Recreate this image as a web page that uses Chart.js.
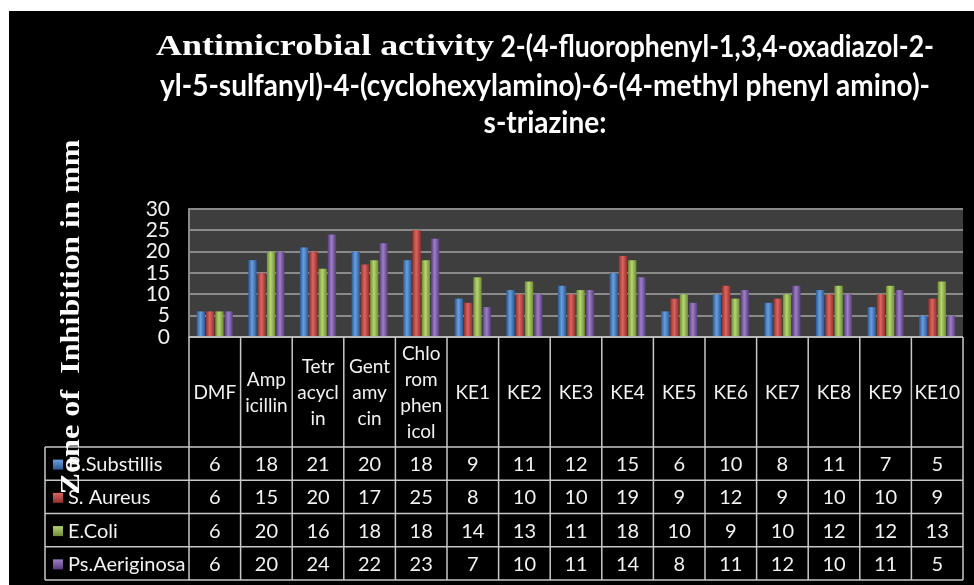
<!DOCTYPE html>
<html><head><meta charset="utf-8">
<script src="https://cdn.jsdelivr.net/npm/chart.js@4/dist/chart.umd.min.js"></script>
<style>html,body{margin:0;padding:0;background:#fff;}#wrap{width:974px;height:585px;position:relative}</style>
</head><body><div id="wrap"><canvas id="c" width="974" height="585"></canvas></div>
<script>
// ---- data ----
const categories = [['DMF'],['Amp','icillin'],['Tetr','acycl','in'],['Gent','amy','cin'],['Chlo','rom','phen','icol'],['KE1'],['KE2'],['KE3'],['KE4'],['KE5'],['KE6'],['KE7'],['KE8'],['KE9'],['KE10']];
const seriesNames = ['B.Substillis','S. Aureus','E.Coli','Ps.Aeriginosa'];
const bSubtilis    = [6,18,21,20,18,9,11,12,15,6,10,8,11,7,5];
const sAureus      = [6,15,20,17,25,8,10,10,19,9,12,9,10,10,9];
const eColi        = [6,20,16,18,18,14,13,11,18,10,9,10,12,12,13];
const psAeruginosa = [6,20,24,22,23,7,10,11,14,8,11,12,10,11,5];
const yTicks = [0,5,10,15,20,25,30];
const titleSerif = 'Antimicrobial activity';
const titleLines = [' 2-(4-fluorophenyl-1,3,4-oxadiazol-2-','yl-5-sulfanyl)-4-(cyclohexylamino)-6-(4-methyl phenyl amino)-','s-triazine:'];
const yTitle = 'Zone of  Inhibition in mm';

// ---- styles ----
const base = ['#4a7ebb','#be4b48','#98b954','#7d60a0'];
const dark = ['#2a5a94','#93302d','#6d8a33','#573b7c'];
const lite = ['#6a9ee0','#dc6561','#b6d670','#9c80c4'];
const SANS = 'Lato, "Noto Sans", sans-serif';
const SERIF = '"Liberation Serif", "DejaVu Serif", serif';

function grad(ctx, x0, x1, i){
  const g = ctx.createLinearGradient(x0,0,x1,0);
  g.addColorStop(0,dark[i]); g.addColorStop(0.45,lite[i]); g.addColorStop(1,dark[i]);
  return g;
}

const decor = {
  id:'decor',
  beforeDraw(chart){
    const ctx = chart.ctx, a = chart.chartArea;
    ctx.save();
    ctx.fillStyle='#fff'; ctx.fillRect(0,0,chart.width,chart.height);
    ctx.fillStyle='#000'; ctx.fillRect(9,11,chart.width-9,chart.height-11);
    ctx.fillStyle='#3e3e3e'; ctx.fillRect(a.left,a.top,a.right-a.left,a.bottom-a.top);
    ctx.restore();
  },
  beforeDatasetsDraw(chart){
    const ctx = chart.ctx;
    chart.data.datasets.forEach((ds,i)=>{
      chart.getDatasetMeta(i).data.forEach(el=>{
        el.options.backgroundColor = grad(ctx, el.x-el.width/2, el.x+el.width/2, i);
      });
    });
  },
  afterDraw(chart){
    const ctx = chart.ctx, a = chart.chartArea, xs = chart.scales.x;
    const n = categories.length, w = (a.right-a.left)/n;
    const top = a.bottom, hb = 447, bottom = 580, lx = 45;
    const rh = (bottom-hb)/seriesNames.length;
    ctx.save();
    // title
    ctx.fillStyle='#fff'; ctx.textBaseline='middle'; ctx.textAlign='left';
    const SF = 'bold 30px '+SANS, RF = 'bold 30px '+SERIF;
    ctx.font = SF;
    const sx = (931-161)/ctx.measureText(titleLines[1]).width;
    const ys = [47,86,123], cxm = 545;
    // line 1: serif part then sans part
    ctx.font = RF; const wSer = ctx.measureText(titleSerif).width;
    ctx.save(); ctx.translate(156,ys[0]); ctx.scale(338/wSer,1); ctx.fillText(titleSerif,0,0); ctx.restore();
    ctx.font = SF; const w1 = ctx.measureText(titleLines[0]).width;
    ctx.save(); ctx.translate(494,ys[0]); ctx.scale(440/w1,1); ctx.fillText(titleLines[0],0,0); ctx.restore();
    [1,2].forEach(k=>{
      ctx.font = SF; const nat = ctx.measureText(titleLines[k]).width;
      ctx.save(); ctx.translate(cxm - nat*sx/2, ys[k]); ctx.scale(sx,1); ctx.fillText(titleLines[k],0,0); ctx.restore();
    });
    // table lines
    ctx.strokeStyle='#c8c8c8'; ctx.lineWidth=1.5;
    ctx.beginPath();
    ctx.moveTo(a.left,top); ctx.lineTo(a.right,top);
    for(let k=0;k<=n;k++){ const x=a.left+k*w; ctx.moveTo(x,top); ctx.lineTo(x,bottom); }
    for(let r=0;r<=seriesNames.length;r++){ const y=hb+r*rh; ctx.moveTo(lx,y); ctx.lineTo(a.right,y); }
    ctx.moveTo(lx,hb); ctx.lineTo(lx,bottom);
    ctx.stroke();
    // header labels
    ctx.fillStyle='#f2f2f2'; ctx.textAlign='center'; ctx.textBaseline='middle';
    ctx.font='19px '+SANS;
    categories.forEach((lines,i)=>{
      const cx = xs.getPixelForValue(i);
      const lh = 26, cy = (top+hb)/2 + 1;
      lines.forEach((ln,j)=>{ ctx.fillText(ln, cx, cy + (j-(lines.length-1)/2)*lh); });
    });
    // rows
    const vals = chart.data.datasets.map(d=>d.data);
    ctx.font='20px '+SANS;
    seriesNames.forEach((nm,r)=>{
      const cy = hb + r*rh + rh/2 + 1;
      vals[r].forEach((v,i)=>{ ctx.textAlign='center'; ctx.fillText(String(v), xs.getPixelForValue(i), cy); });
      const g = ctx.createLinearGradient(0,cy-5,0,cy+5);
      g.addColorStop(0,lite[r]); g.addColorStop(1,dark[r]);
      ctx.fillStyle=g; ctx.fillRect(53,cy-5,10,10);
      ctx.fillStyle='#f2f2f2'; ctx.textAlign='left';
      ctx.fillText(nm, 68, cy);
    });
    // y title
    ctx.save();
    ctx.translate(72,317); ctx.rotate(-Math.PI/2);
    ctx.font='bold 27px '+SERIF; ctx.textAlign='center'; ctx.textBaseline='middle';
    const tw = ctx.measureText(yTitle).width;
    ctx.scale(355/tw,1);
    ctx.fillStyle='#fff'; ctx.fillText(yTitle,0,0);
    ctx.restore();
    ctx.restore();
  }
};

new Chart(document.getElementById('c'),{
  type:'bar',
  data:{
    labels: categories,
    datasets:[
      {label:seriesNames[0],data:bSubtilis},
      {label:seriesNames[1],data:sAureus},
      {label:seriesNames[2],data:eColi},
      {label:seriesNames[3],data:psAeruginosa}
    ].map((d,i)=>Object.assign(d,{backgroundColor:()=>base[i],borderWidth:0,categoryPercentage:0.72,barPercentage:0.9}))
  },
  options:{
    responsive:false, animation:false, devicePixelRatio:1,
    layout:{padding:{left:130,right:11,top:209,bottom:248}},
    plugins:{legend:{display:false},title:{display:false},tooltip:{enabled:false}},
    scales:{
      x:{display:false},
      y:{
        min:0,max:30,
        afterFit(s){ s.width=59; },
        afterBuildTicks(s){ s.ticks = yTicks.map(v=>({value:v})); },
        ticks:{color:'#f2f2f2',font:{family:'Lato',size:21},padding:19,autoSkip:false},
        grid:{color:'#8a8a8a',lineWidth:2,drawTicks:false},
        border:{color:'#8a8a8a',width:2}
      }
    }
  },
  plugins:[decor]
});
</script>
</body></html>
